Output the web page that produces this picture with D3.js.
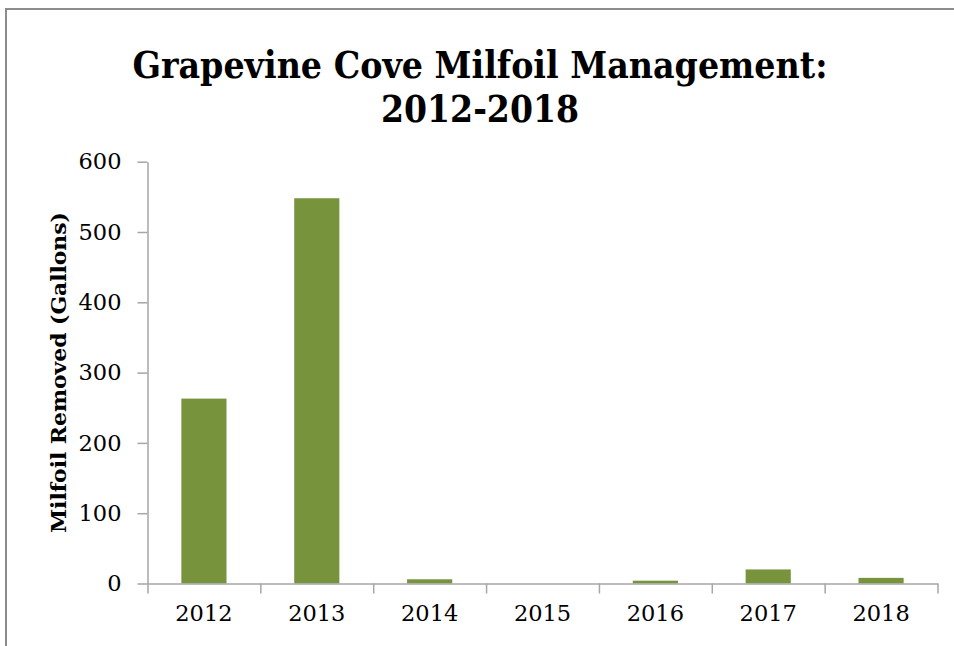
<!DOCTYPE html>
<html>
<head>
<meta charset="utf-8">
<script src="https://cdn.jsdelivr.net/npm/d3@7"></script>
<style>
  body { margin: 0; background: #fff; }
</style>
</head>
<body>
<div id="chart"></div>
<script>
// chart data
var years = ["2012", "2013", "2014", "2015", "2016", "2017", "2018"];
var gallons = [263, 548, 6, 0, 4, 20, 8];
var yTicks = [0, 100, 200, 300, 400, 500, 600];
var titleLines = ["Grapevine Cove Milfoil Management:", "2012-2018"];
var yTitle = "Milfoil Removed (Gallons)";

var width = 954;
var height = 646;
var plotLeft = 147.5, plotRight = 937.5, plotTop = 161.7, plotBottom = 583.5;
var barColor = "#77933c";
var axisColor = "#a6a6a6";
var serif = "'DejaVu Serif', 'Liberation Serif', serif";

var svg = d3.select("#chart").append("svg")
    .attr("width", width)
    .attr("height", height);

// outer chart border (only top and left visible)
svg.append("rect")
    .attr("x", 6)
    .attr("y", 9)
    .attr("width", width + 20)
    .attr("height", height + 20)
    .attr("fill", "#fff")
    .attr("stroke", "#8c8c8c")
    .attr("stroke-width", 2);

var x = d3.scaleBand()
    .domain(years)
    .range([plotLeft, plotRight])
    .paddingInner(0.6)
    .paddingOuter(0.3);

var y = d3.scaleLinear()
    .domain([0, 600])
    .range([plotBottom, plotTop]);

// bars
svg.selectAll("rect.bar")
    .data(years)
    .enter()
    .append("rect")
    .attr("class", "bar")
    .attr("x", function(d) { return x(d); })
    .attr("y", function(d, i) { return y(gallons[i]); })
    .attr("width", x.bandwidth())
    .attr("height", function(d, i) { return y(0) - y(gallons[i]); })
    .attr("fill", barColor);

// y axis
var yAxis = svg.append("g")
    .attr("transform", "translate(" + plotLeft + ",0)")
    .call(d3.axisLeft(y).tickValues(yTicks).tickSize(10).tickSizeOuter(0).tickPadding(16));

// x axis with ticks between categories
var xLin = d3.scaleLinear().domain([0, years.length]).range([plotLeft, plotRight]);
var xAxis = svg.append("g")
    .attr("transform", "translate(0," + plotBottom + ")")
    .call(d3.axisBottom(xLin).tickValues(d3.range(years.length + 1)).tickSize(10).tickSizeOuter(0).tickFormat(""));

svg.append("g")
    .attr("transform", "translate(0," + plotBottom + ")")
    .call(d3.axisBottom(x).tickSize(0).tickPadding(22))
    .call(function(g) { g.select(".domain").remove(); });

svg.selectAll(".domain, .tick line")
    .attr("stroke", axisColor)
    .attr("stroke-width", 1.5);

svg.selectAll(".tick text")
    .attr("font-family", serif)
    .attr("font-size", "22.5px")
    .attr("fill", "#000");

// title
svg.selectAll("text.title")
    .data(titleLines)
    .enter()
    .append("text")
    .attr("class", "title")
    .attr("x", 480)
    .attr("y", function(d, i) { return 78 + i * 43.5; })
    .attr("text-anchor", "middle")
    .attr("font-family", serif)
    .attr("font-weight", "bold")
    .attr("font-size", "38px")
    .attr("textLength", function(d, i) { return i == 0 ? 695 : 198; })
    .attr("lengthAdjust", "spacingAndGlyphs")
    .attr("fill", "#000")
    .text(function(d) { return d; });

// y axis title
svg.append("text")
    .attr("transform", "translate(66," + ((plotTop + plotBottom) / 2) + ") rotate(-90)")
    .attr("text-anchor", "middle")
    .attr("font-family", serif)
    .attr("font-weight", "bold")
    .attr("font-size", "20.5px")
    .attr("textLength", 321)
    .attr("lengthAdjust", "spacingAndGlyphs")
    .attr("fill", "#000")
    .text(yTitle);
</script>
</body>
</html>
